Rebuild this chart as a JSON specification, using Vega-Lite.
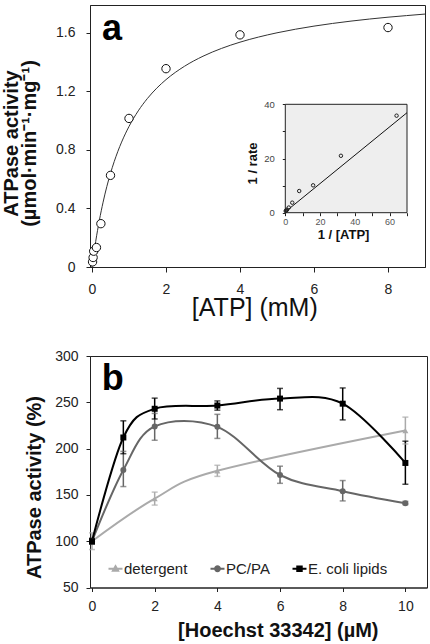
{
  "$schema": "https://vega.github.io/schema/vega-lite/v6.json",
  "padding": {"left": 1, "top": 4, "right": 0, "bottom": 0},
  "autosize": {"type": "pad"},
  "background": "white",
  "bounds": "flush",
  "spacing": 89,
  "resolve": {"legend": {"color": "independent"}},
  "config": {
    "font": "Liberation Sans",
    "view": {"stroke": "#222", "strokeWidth": 1},
    "axis": {"grid": false, "labelFont": "Liberation Sans", "titleFont": "Liberation Sans", "domainColor": "#222", "tickColor": "#222", "labelColor": "#222", "titleColor": "#111", "labelFlush": false, "labelOverlap": false}
  },
  "vconcat": [
    {
      "width": 335,
      "height": 262,
      "layer": [
        {
          "layer": [
            {
              "data": {"values": [
                {"S": 0, "v": 0}, {"S": 0.05, "v": 0.0914}, {"S": 0.1, "v": 0.1745}, {"S": 0.2, "v": 0.32},
                {"S": 0.3, "v": 0.443}, {"S": 0.4, "v": 0.549}, {"S": 0.5, "v": 0.64}, {"S": 0.6, "v": 0.72},
                {"S": 0.7, "v": 0.7906}, {"S": 0.8, "v": 0.8533}, {"S": 0.9, "v": 0.9095}, {"S": 1.0, "v": 0.96},
                {"S": 1.25, "v": 1.0667}, {"S": 1.5, "v": 1.152}, {"S": 1.75, "v": 1.2218}, {"S": 2.0, "v": 1.28},
                {"S": 2.5, "v": 1.3714}, {"S": 3.0, "v": 1.44}, {"S": 3.5, "v": 1.4933}, {"S": 4.0, "v": 1.536},
                {"S": 4.5, "v": 1.5709}, {"S": 5.0, "v": 1.6}, {"S": 5.5, "v": 1.6246}, {"S": 6.0, "v": 1.6457},
                {"S": 6.5, "v": 1.664}, {"S": 7.0, "v": 1.68}, {"S": 7.5, "v": 1.6941}, {"S": 8.0, "v": 1.7067},
                {"S": 8.5, "v": 1.7176}, {"S": 9.0, "v": 1.728}
              ]},
              "mark": {"type": "line", "color": "#333", "strokeWidth": 1, "interpolate": "monotone"},
              "encoding": {
                "x": {"field": "S", "type": "quantitative", "scale": {"domain": [-0.054, 9], "nice": false, "zero": false},
                  "axis": {"values": [0, 1, 2, 3, 4, 5, 6, 7, 8, 9], "labelExpr": "datum.value % 2 == 0 ? datum.label : ''",
                    "title": "[ATP] (mM)", "titleFontSize": 25, "titleFontWeight": "normal", "titleX": 164.3, "titleY": 48, "titleBaseline": "alphabetic",
                    "tickSize": 5, "labelPadding": 10, "labelFontSize": 14}},
                "y": {"field": "v", "type": "quantitative", "scale": {"domain": [0, 1.79], "nice": false},
                  "axis": {"values": [0, 0.2, 0.4, 0.6, 0.8, 1.0, 1.2, 1.4, 1.6],
                    "labelExpr": "round(datum.value*10) % 4 == 0 ? (datum.value == 0 ? '0' : format(datum.value, '.1f')) : ''",
                    "title": ["ATPase activity", "(µmol·min⁻¹·mg⁻¹)"], "titleFontSize": 20, "titleFontWeight": "bold", "titleLineHeight": 18,
                    "titleX": -88.5, "titleY": 138, "titleBaseline": "top", "titleAlign": "center", "titleAngle": -90,
                    "tickSize": 4, "labelPadding": 11, "labelFontSize": 14}}
              }
            },
            {
              "data": {"values": [
                {"S": 0.015, "v": 0.035}, {"S": 0.03, "v": 0.065}, {"S": 0.045, "v": 0.108}, {"S": 0.12, "v": 0.133},
                {"S": 0.24, "v": 0.296}, {"S": 0.5, "v": 0.626}, {"S": 1.0, "v": 1.015}, {"S": 2.0, "v": 1.355},
                {"S": 4.0, "v": 1.586}, {"S": 8.0, "v": 1.636}
              ]},
              "mark": {"type": "point", "shape": "circle", "size": 70, "filled": true, "fill": "white", "stroke": "#111", "strokeWidth": 1, "opacity": 1},
              "encoding": {
                "x": {"field": "S", "type": "quantitative", "scale": {"domain": [-0.054, 9], "nice": false, "zero": false}},
                "y": {"field": "v", "type": "quantitative", "scale": {"domain": [0, 1.79], "nice": false}}
              }
            },
            {
              "data": {"values": [{}]},
              "mark": {"type": "text", "text": "a", "fontSize": 36, "fontWeight": "bold", "align": "left", "baseline": "alphabetic", "color": "#000"},
              "encoding": {
                "x": {"datum": 0.27, "type": "quantitative", "scale": {"domain": [-0.054, 9], "nice": false, "zero": false}},
                "y": {"datum": 1.548, "type": "quantitative", "scale": {"domain": [0, 1.79], "nice": false}}
              }
            }
          ]
        },
        {
          "layer": [
            {
              "data": {"values": [{}]},
              "mark": {"type": "rect", "fill": "#eeeeee", "stroke": "#222", "strokeWidth": 1},
              "encoding": {
                "x": {"datum": 0, "type": "quantitative", "scale": {"domain": [0, 70], "range": [195.3, 317], "nice": false, "zero": false},
                  "axis": {"orient": "bottom", "offset": -54.3, "values": [0, 10, 20, 30, 40, 50, 60, 70],
                    "labelExpr": "datum.value % 20 == 0 ? datum.label : ''", "domain": false, "tickSize": 3,
                    "labelFontSize": 9, "labelColor": "#555", "labelPadding": 2,
                    "title": "1 / [ATP]", "titleFontSize": 13, "titleFontWeight": "bold", "titleX": 253, "titleY": 26, "titleBaseline": "alphabetic"}},
                "x2": {"datum": 70},
                "y": {"datum": 0, "type": "quantitative", "scale": {"domain": [0, 40], "range": [207.7, 99.3], "nice": false, "zero": false},
                  "axis": {"orient": "left", "offset": -195.3, "values": [0, 5, 10, 15, 20, 25, 30, 35, 40],
                    "labelExpr": "datum.value % 20 == 0 ? datum.label : ''", "domain": false, "tickSize": 3,
                    "labelFontSize": 9.5, "labelColor": "#444", "labelPadding": 8,
                    "title": "1 / rate", "titleFontSize": 13, "titleFontWeight": "bold", "titleX": -39, "titleY": 158, "titleBaseline": "top", "titleAlign": "center", "titleAngle": -90}},
                "y2": {"datum": 40}
              }
            },
            {
              "data": {"values": [{"ix": 0, "iy": 0.3}, {"ix": 70, "iy": 36.9}]},
              "mark": {"type": "line", "color": "#111", "strokeWidth": 1},
              "encoding": {
                "x": {"field": "ix", "type": "quantitative", "scale": {"domain": [0, 70], "range": [195.3, 317], "nice": false, "zero": false}},
                "y": {"field": "iy", "type": "quantitative", "scale": {"domain": [0, 40], "range": [207.7, 99.3], "nice": false, "zero": false}}
              }
            },
            {
              "data": {"values": [
                {"ix": 64, "iy": 35.8}, {"ix": 32, "iy": 21}, {"ix": 16, "iy": 10.1}, {"ix": 8, "iy": 8},
                {"ix": 4, "iy": 3.7}, {"ix": 2, "iy": 1.9}, {"ix": 1, "iy": 1.1}, {"ix": 0.5, "iy": 0.8}, {"ix": 0.25, "iy": 0.6}
              ]},
              "mark": {"type": "point", "shape": "circle", "size": 12, "filled": false, "stroke": "#222", "strokeWidth": 1, "opacity": 1},
              "encoding": {
                "x": {"field": "ix", "type": "quantitative", "scale": {"domain": [0, 70], "range": [195.3, 317], "nice": false, "zero": false}},
                "y": {"field": "iy", "type": "quantitative", "scale": {"domain": [0, 40], "range": [207.7, 99.3], "nice": false, "zero": false}}
              }
            }
          ]
        }
      ],
      "resolve": {"scale": {"x": "independent", "y": "independent"}, "axis": {"x": "independent", "y": "independent"}}
    },
    {
      "width": 337,
      "height": 231.5,
      "data": {"values": [
        {"series": "detergent", "x": 0, "y": 100, "lo": 91, "hi": 109},
        {"series": "detergent", "x": 2, "y": 146, "lo": 139, "hi": 153},
        {"series": "detergent", "x": 4, "y": 176, "lo": 170, "hi": 182},
        {"series": "detergent", "x": 10, "y": 219.5, "lo": 205, "hi": 234},
        {"series": "PC/PA", "x": 0, "y": 100, "lo": 97, "hi": 103},
        {"series": "PC/PA", "x": 1, "y": 177, "lo": 159, "hi": 197},
        {"series": "PC/PA", "x": 2, "y": 224, "lo": 209, "hi": 238},
        {"series": "PC/PA", "x": 4, "y": 223.5, "lo": 211, "hi": 237},
        {"series": "PC/PA", "x": 6, "y": 171.5, "lo": 162.5, "hi": 181},
        {"series": "PC/PA", "x": 8, "y": 154, "lo": 143.5, "hi": 165.5},
        {"series": "PC/PA", "x": 10, "y": 141, "lo": 139.5, "hi": 143},
        {"series": "E. coli lipids", "x": 0, "y": 100, "lo": 97, "hi": 103},
        {"series": "E. coli lipids", "x": 1, "y": 212, "lo": 194.5, "hi": 230},
        {"series": "E. coli lipids", "x": 2, "y": 243, "lo": 232, "hi": 254.5},
        {"series": "E. coli lipids", "x": 4, "y": 246.5, "lo": 241.5, "hi": 251.5},
        {"series": "E. coli lipids", "x": 6, "y": 254, "lo": 242, "hi": 265},
        {"series": "E. coli lipids", "x": 8, "y": 248.5, "lo": 231, "hi": 265.5},
        {"series": "E. coli lipids", "x": 10, "y": 184.5, "lo": 161.5, "hi": 208}
      ]},
      "layer": [
        {
          "mark": {"type": "rule", "strokeWidth": 1.5},
          "encoding": {
            "x": {"field": "x", "type": "quantitative", "scale": {"domain": [-0.064, 10.69], "nice": false, "zero": false},
              "axis": {"values": [0, 2, 4, 6, 8, 10], "title": "[Hoechst 33342] (µM)", "titleFontSize": 20, "titleFontWeight": "bold",
                "titleX": 187.8, "titleY": 48.5, "titleBaseline": "alphabetic", "tickSize": 4, "labelPadding": 8, "labelFontSize": 14}},
            "y": {"field": "lo", "type": "quantitative", "scale": {"domain": [50, 300], "nice": false, "zero": false},
              "axis": {"values": [50, 100, 150, 200, 250, 300], "title": "ATPase activity (%)", "titleFontSize": 20, "titleFontWeight": "bold",
                "titleX": -65.5, "titleY": 131, "titleBaseline": "top", "titleAlign": "center", "titleAngle": -90,
                "tickSize": 4, "labelPadding": 8, "labelFontSize": 14}},
            "y2": {"field": "hi"},
            "color": {"field": "series", "type": "nominal", "scale": {"domain": ["detergent", "PC/PA", "E. coli lipids"], "range": ["#aaaaaa", "#666666", "#000000"]},
              "legend": {"orient": "none", "legendX": 18, "legendY": 205, "direction": "horizontal", "title": null,
                "labelFontSize": 15, "labelColor": "#222", "symbolSize": 34, "labelOffset": 1, "columnPadding": 18, "symbolStrokeWidth": 1.8,
                "encode": {"symbols": {"update": {
                  "shape": {"signal": "datum.value === 'detergent' ? 'M-2.4,0H2.4M0,-0.95L0.95,0.75H-0.95Z' : datum.value === 'PC/PA' ? 'M-2.4,0H2.4M-0.85,0A0.85,0.85,0,1,0,0.85,0A0.85,0.85,0,1,0,-0.85,0Z' : 'M-2.4,0H2.4M-0.8,-0.8H0.8V0.8H-0.8Z'"},
                  "fill": {"signal": "datum.value === 'detergent' ? '#aaaaaa' : datum.value === 'PC/PA' ? '#666666' : '#000000'"},
                  "stroke": {"signal": "datum.value === 'detergent' ? '#aaaaaa' : datum.value === 'PC/PA' ? '#666666' : '#000000'"},
                  "strokeWidth": {"value": 1.8},
                  "opacity": {"value": 1}
                }}}}}
          }
        },
        {
          "mark": {"type": "tick", "orient": "horizontal", "size": 6, "thickness": 1.5},
          "encoding": {
            "x": {"field": "x", "type": "quantitative"},
            "y": {"field": "lo", "type": "quantitative"},
            "color": {"field": "series", "type": "nominal"}
          }
        },
        {
          "mark": {"type": "tick", "orient": "horizontal", "size": 6, "thickness": 1.5},
          "encoding": {
            "x": {"field": "x", "type": "quantitative"},
            "y": {"field": "hi", "type": "quantitative"},
            "color": {"field": "series", "type": "nominal"}
          }
        },
        {
          "mark": {"type": "line", "strokeWidth": 2, "interpolate": "cardinal"},
          "encoding": {
            "x": {"field": "x", "type": "quantitative"},
            "y": {"field": "y", "type": "quantitative"},
            "color": {"field": "series", "type": "nominal"}
          }
        },
        {
          "transform": [{"filter": "datum.series === 'detergent'"}],
          "mark": {"type": "point", "shape": "triangle-up", "filled": true, "size": 36, "opacity": 1},
          "encoding": {
            "x": {"field": "x", "type": "quantitative"},
            "y": {"field": "y", "type": "quantitative"},
            "color": {"field": "series", "type": "nominal"}
          }
        },
        {
          "transform": [{"filter": "datum.series === 'PC/PA'"}],
          "mark": {"type": "point", "shape": "circle", "filled": true, "size": 36, "opacity": 1},
          "encoding": {
            "x": {"field": "x", "type": "quantitative"},
            "y": {"field": "y", "type": "quantitative"},
            "color": {"field": "series", "type": "nominal"}
          }
        },
        {
          "transform": [{"filter": "datum.series === 'E. coli lipids'"}],
          "mark": {"type": "point", "shape": "square", "filled": true, "size": 36, "opacity": 1},
          "encoding": {
            "x": {"field": "x", "type": "quantitative"},
            "y": {"field": "y", "type": "quantitative"},
            "color": {"field": "series", "type": "nominal"}
          }
        },
        {
          "data": {"values": [{}]},
          "mark": {"type": "text", "text": "b", "fontSize": 36, "fontWeight": "bold", "align": "left", "baseline": "alphabetic", "color": "#000"},
          "encoding": {
            "x": {"datum": 0.31, "type": "quantitative"},
            "y": {"datum": 263, "type": "quantitative"}
          }
        }
      ]
    }
  ]
}
